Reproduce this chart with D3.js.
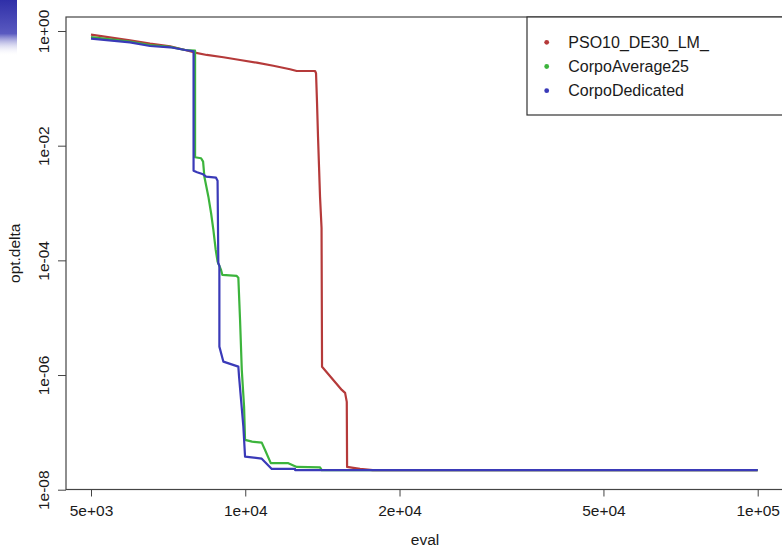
<!DOCTYPE html>
<html>
<head>
<meta charset="utf-8">
<script src="https://cdnjs.cloudflare.com/ajax/libs/d3/7.8.5/d3.min.js"></script>
<style>
  body { margin: 0; background: #fff; }
  svg text { font-family: "Liberation Sans", Arial, sans-serif; fill: #1a1a1a; }
</style>
</head>
<body>
<svg id="chart" width="782" height="548"></svg>
<script>
// 데이터
const seriesNames = ["PSO10_DE30_LM_", "CorpoAverage25", "CorpoDedicated"];

const evalRed = [5000, 5956, 6520, 7135, 7632, 7927, 8413, 9064, 9769, 10530, 11345, 12229, 12602, 13684, 13744, 13806, 13868, 13931, 13993, 14089, 14120, 15431, 15661, 15780, 15802, 16254, 16749, 17736, 100000];
const deltaRed = [0.862, 0.688, 0.601, 0.541, 0.466, 0.425, 0.382, 0.348, 0.312, 0.280, 0.248, 0.215, 0.2007, 0.2007, 0.183, 0.0555, 0.0142, 0.00425, 0.00128, 3.67e-4, 1.39e-6, 5.5e-7, 4.88e-7, 3.4e-7, 2.5e-8, 2.4e-8, 2.3e-8, 2.2e-8, 2.2e-8];

const evalGreen = [5000, 5956, 6520, 7135, 7632, 7981, 7981, 8200, 8274, 8322, 8473, 8577, 8665, 8757, 8830, 8970, 9022, 9625, 9694, 9769, 9845, 9947, 9991, 10311, 10769, 10930, 11215, 12136, 12602, 13993, 14100, 100000];
const deltaGreen = [0.786, 0.651, 0.570, 0.530, 0.466, 0.453, 6.28e-3, 6.03e-3, 5.26e-3, 2.88e-3, 1.29e-3, 6.63e-4, 3.39e-4, 1.52e-4, 9.49e-5, 6.8e-5, 5.56e-5, 5.35e-5, 4.99e-5, 9.14e-6, 1.23e-6, 2.81e-7, 7.38e-8, 6.9e-8, 6.62e-8, 4.94e-8, 2.9e-8, 2.9e-8, 2.5e-8, 2.45e-8, 2.2e-8, 2.2e-8];

const evalBlue = [5000, 5956, 6520, 7135, 7632, 7927, 7927, 8054, 8274, 8386, 8769, 8830, 8860, 8902, 8902, 9064, 9694, 9725, 9813, 9915, 9991, 10769, 11265, 12507, 12507, 100000];
const deltaBlue = [0.734, 0.635, 0.548, 0.520, 0.466, 0.443, 3.67e-3, 3.44e-3, 3.17e-3, 2.88e-3, 2.77e-3, 2.45e-3, 8.89e-5, 8.0e-5, 3.13e-6, 1.71e-6, 1.40e-6, 9.4e-7, 3.68e-7, 1.26e-7, 3.78e-8, 3.48e-8, 2.3e-8, 2.3e-8, 2.2e-8, 2.2e-8];

const xTicks = [5e3, 1e4, 2e4, 5e4, 1e5];
const xTickLabels = ["5e+03", "1e+04", "2e+04", "5e+04", "1e+05"];
const yTicks = [1, 1e-2, 1e-4, 1e-6, 1e-8];
const yTickLabels = ["1e+00", "1e-02", "1e-04", "1e-06", "1e-08"];

const seriesColors = ["#b53a3a", "#3cb43c", "#3a3ab8"];

// SVG 설정
const svg = d3.select("#chart");
const box = { left: 66, top: 17, right: 784, bottom: 489.5 };

// 왼쪽 위 파란 조각
const grad = svg.append("defs").append("linearGradient")
    .attr("id", "corner").attr("x1", 0).attr("y1", 0).attr("x2", 0).attr("y2", 1);
grad.append("stop").attr("offset", "0%").attr("stop-color", "#2f2fa8");
grad.append("stop").attr("offset", "60%").attr("stop-color", "#5a5ac0");
grad.append("stop").attr("offset", "100%").attr("stop-color", "#ffffff").attr("stop-opacity", 0);
svg.append("rect").attr("x", 0).attr("y", 0).attr("width", 17).attr("height", 56)
    .attr("fill", "url(#corner)");

// 스케일
const x = d3.scaleLog().domain([5e3, 1e5]).range([91, 757.7]);
const y = d3.scaleLog().domain([1e-8, 1]).range([489.7, 31]);

// X축
const xAxis = svg.append("g")
    .attr("transform", `translate(0,${box.bottom})`)
    .call(d3.axisBottom(x).tickValues(xTicks)
        .tickFormat((d, i) => xTickLabels[i]).tickSizeOuter(0).tickSize(7).tickPadding(12));
xAxis.select(".domain").remove();
xAxis.selectAll("line").attr("stroke", "#444");
xAxis.selectAll("text").style("font-size", "15.5px").attr("dy", null).attr("y", 516 - box.bottom);

// Y축
const yAxis = svg.append("g")
    .attr("transform", `translate(${box.left},0)`)
    .call(d3.axisLeft(y).tickValues(yTicks)
        .tickFormat((d, i) => yTickLabels[i]).tickSizeOuter(0).tickSize(8));
yAxis.select(".domain").remove();
yAxis.selectAll("line").attr("stroke", "#444");
yAxis.selectAll("text")
    .style("font-size", "15.5px")
    .attr("x", null).attr("dy", null)
    .attr("text-anchor", "middle")
    .attr("transform", `translate(${48.5 - box.left},0) rotate(-90)`);

// 선
const lineGen = d3.line().x(d => x(d[0])).y(d => y(d[1]));
const series = [
    d3.zip(evalRed, deltaRed),
    d3.zip(evalGreen, deltaGreen),
    d3.zip(evalBlue, deltaBlue)
];
svg.append("g").selectAll("path")
    .data(series)
    .enter()
    .append("path")
    .attr("d", d => lineGen(d))
    .attr("fill", "none")
    .attr("stroke", (d, i) => seriesColors[i])
    .attr("stroke-width", 2.2)
    .attr("stroke-linejoin", "round");

// 테두리
svg.append("rect")
    .attr("x", box.left).attr("y", box.top)
    .attr("width", box.right - box.left).attr("height", box.bottom - box.top)
    .attr("fill", "none").attr("stroke", "#444").attr("stroke-width", 1.2);

// 축 레이블
svg.append("text")
    .attr("x", (box.left + box.right) / 2).attr("y", 545)
    .attr("text-anchor", "middle")
    .style("font-size", "15.5px")
    .text("eval");

svg.append("text")
    .attr("transform", `translate(20,${(box.top + box.bottom) / 2}) rotate(-90)`)
    .attr("text-anchor", "middle")
    .style("font-size", "15.5px")
    .text("opt.delta");

// 범례
const legend = svg.append("g");
legend.append("rect")
    .attr("x", 527).attr("y", box.top).attr("width", 300).attr("height", 98)
    .attr("fill", "#fff").attr("stroke", "#333").attr("stroke-width", 1.2);
seriesNames.forEach((name, i) => {
    const cy = 42.3 + i * 24.2;
    legend.append("circle")
        .attr("cx", 546.7).attr("cy", cy).attr("r", 2.4)
        .attr("fill", seriesColors[i]);
    legend.append("text")
        .attr("x", 568.3).attr("y", cy)
        .attr("dy", "0.36em")
        .style("font-size", "16px")
        .text(name);
});
</script>
</body>
</html>
